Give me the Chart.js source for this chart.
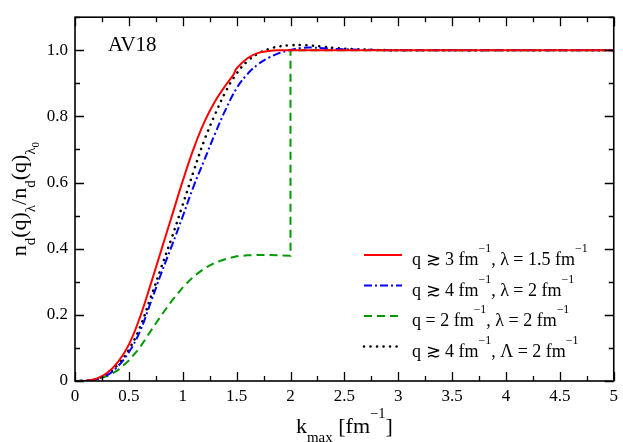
<!DOCTYPE html>
<html>
<head>
<meta charset="utf-8">
<script src="https://cdn.jsdelivr.net/npm/chart.js@4.4.1/dist/chart.umd.min.js"></script>
<style>
html,body{margin:0;padding:0;background:#fff;}
#wrap{width:623px;height:442px;position:relative;}
</style>
</head>
<body>
<div id="wrap"><canvas id="c"></canvas></div>
<script>
// ---- data ----
const redX   = [0, 0.1, 0.2, 0.3, 0.4, 0.5, 0.6, 0.7, 0.8, 0.9, 1.0, 1.1, 1.2, 1.3, 1.4, 1.47, 1.5, 1.6, 1.7, 1.8, 1.9, 2.0, 2.5, 5];
const redY   = [0, 0.001, 0.007, 0.025, 0.058, 0.11, 0.19, 0.29, 0.395, 0.50, 0.605, 0.702, 0.783, 0.846, 0.895, 0.926, 0.945, 0.976, 0.992, 0.998, 1.0, 1.0, 1.0, 1.0];

const blueX  = [0, 0.1, 0.2, 0.3, 0.4, 0.5, 0.6, 0.7, 0.8, 0.9, 1.0, 1.1, 1.2, 1.3, 1.4, 1.5, 1.6, 1.7, 1.8, 1.9, 2.0, 2.1, 2.2, 2.3, 2.5, 2.8, 3.0, 5];
const blueY  = [0, 0.001, 0.005, 0.018, 0.045, 0.087, 0.148, 0.235, 0.325, 0.41, 0.498, 0.588, 0.668, 0.748, 0.822, 0.885, 0.928, 0.958, 0.978, 0.992, 1.001, 1.007, 1.008, 1.006, 1.003, 1.001, 1.0, 1.0];

const greenX = [0, 0.1, 0.2, 0.3, 0.4, 0.5, 0.6, 0.7, 0.8, 0.9, 1.0, 1.1, 1.2, 1.3, 1.4, 1.5, 1.6, 1.7, 1.8, 1.9, 2.0, 2.0, 5];
const greenY = [0, 0.001, 0.005, 0.015, 0.033, 0.062, 0.10, 0.15, 0.198, 0.243, 0.283, 0.316, 0.34, 0.358, 0.369, 0.377, 0.38, 0.381, 0.381, 0.38, 0.379, 1.0, 1.0];

const blackX = [0, 0.1, 0.2, 0.3, 0.4, 0.5, 0.6, 0.7, 0.8, 0.9, 1.0, 1.1, 1.2, 1.3, 1.4, 1.5, 1.6, 1.7, 1.8, 1.9, 2.0, 2.1, 2.2, 2.3, 2.4, 2.6, 2.8, 3.0, 5];
const blackY = [0, 0.001, 0.006, 0.022, 0.05, 0.095, 0.16, 0.25, 0.343, 0.435, 0.533, 0.633, 0.728, 0.806, 0.876, 0.93, 0.967, 0.99, 1.004, 1.012, 1.015, 1.016, 1.014, 1.011, 1.007, 1.003, 1.001, 1.0, 1.0];

// legend labels: [text, kind] kind: '' normal, 'sup' superscript
const legendLabels = [
  [["q \u2273 3 fm",""],["\u22121","sup"],[", \u03bb = 1.5 fm",""],["\u22121","sup"]],
  [["q \u2273 4 fm",""],["\u22121","sup"],[", \u03bb = 2 fm",""],["\u22121","sup"]],
  [["q = 2 fm",""],["\u22121","sup"],[", \u03bb = 2 fm",""],["\u22121","sup"]],
  [["q \u2273 4 fm",""],["\u22121","sup"],[", \u039b = 2 fm",""],["\u22121","sup"]]
];
const xTitle = [["k",""],["max","sub"],[" [fm",""],["\u22121","sup"],["]",""]];
const yTitle = [["n",""],["d","sub"],["(q)",""],["\u03bb","sub"],["/n",""],["d","sub"],["(q)",""],["\u03bb","sub"],["0","subsub"]];
const panelLabel = "AV18";
const xMin = 0, xMax = 5, xStep = 0.5, xMinor = 0.25;
const yMin = 0, yMax = 1.1, yStep = 0.2, yMinor = 0.1;

const SERIF = '"Liberation Serif", "DejaVu Serif", "Times New Roman", serif';

function pts(xs, ys){ return xs.map((x,i)=>({x:x, y:ys[i]})); }

function drawRich(ctx, parts, x, y, size, measureOnly){
  let cx = x;
  for (const [t,k] of parts){
    let fs = size, dy = 0;
    if (k==='sup'){ fs = size*0.66; dy = -size*0.7; }
    else if (k==='sub'){ fs = size*0.68; dy = size*0.4; }
    else if (k==='subsub'){ fs = size*0.5; dy = size*0.6; }
    ctx.font = fs + 'px ' + SERIF;
    const w = ctx.measureText(t).width;
    if (!measureOnly) ctx.fillText(t, cx, y+dy);
    cx += w;
  }
  return cx - x;
}

const decor = {
  id:'decor',
  afterDraw(chart){
    const ctx = chart.ctx, a = chart.chartArea;
    const xs = chart.scales.x, ys = chart.scales.y;
    ctx.save();
    ctx.strokeStyle = '#000'; ctx.fillStyle = '#000';
    // ticks (inward, all four sides)
    ctx.lineWidth = 1.3;
    ctx.beginPath();
    const nx = Math.round((xMax-xMin)/xMinor);
    for (let i=0;i<=nx;i++){
      const v = xMin + i*xMinor;
      const p = Math.round(xs.getPixelForValue(v))+0.5;
      const L = (Math.abs(v/xStep - Math.round(v/xStep))<1e-6) ? 9 : 5;
      ctx.moveTo(p, a.bottom); ctx.lineTo(p, a.bottom-L);
      ctx.moveTo(p, a.top); ctx.lineTo(p, a.top+L);
    }
    const ny = Math.round((yMax-yMin)/yMinor);
    for (let i=0;i<=ny;i++){
      const v = yMin + i*yMinor;
      const p = Math.round(ys.getPixelForValue(v))+0.5;
      const L = (Math.abs(v/yStep - Math.round(v/yStep))<1e-6) ? 9 : 5;
      ctx.moveTo(a.left, p); ctx.lineTo(a.left+L, p);
      ctx.moveTo(a.right, p); ctx.lineTo(a.right-L, p);
    }
    ctx.stroke();
    // frame
    ctx.lineWidth = 1.6;
    ctx.strokeRect(a.left, a.top, a.right-a.left, a.bottom-a.top);
    // panel label
    ctx.font = '21px ' + SERIF;
    ctx.textBaseline = 'alphabetic'; ctx.textAlign = 'left';
    ctx.fillText(panelLabel, 108, 51);
    // legend
    const rowY = [255, 285.5, 316, 346.5];
    chart.data.datasets.forEach((ds, i)=>{
      const ly = rowY[i];
      ctx.save();
      ctx.strokeStyle = ds.borderColor;
      ctx.lineWidth = ds.borderWidth;
      ctx.setLineDash(ds.borderDash || []);
      ctx.lineCap = ds.borderCapStyle || 'butt';
      ctx.beginPath(); ctx.moveTo(364, ly); ctx.lineTo(402, ly); ctx.stroke();
      ctx.restore();
      ctx.fillStyle = '#000';
      drawRich(ctx, legendLabels[i], 412, ly+10, 18);
    });
    // x title
    const wx = drawRich(ctx, xTitle, 0, 0, 22, true);
    drawRich(ctx, xTitle, (a.left+a.right)/2 - wx/2, 433, 22);
    // y title
    ctx.save();
    ctx.translate(26, (a.top+a.bottom)/2);
    ctx.rotate(-Math.PI/2);
    const wy = drawRich(ctx, yTitle, 0, 0, 22, true);
    drawRich(ctx, yTitle, -wy/2, 0, 22);
    ctx.restore();
    ctx.restore();
  }
};

new Chart(document.getElementById('c'), {
  type:'line',
  data:{
    datasets:[
      {label:'red', data:pts(redX, redY), borderColor:'#ff0000', borderWidth:2, pointRadius:0, fill:false, tension:0.4},
      {label:'blue', data:pts(blueX, blueY), borderColor:'#0000ff', borderWidth:2, borderDash:[8,3,2,3], pointRadius:0, fill:false, tension:0.4},
      {label:'green', data:pts(greenX, greenY), borderColor:'#009900', borderWidth:2, borderDash:[8,5], pointRadius:0, fill:false, tension:0},
      {label:'black', data:pts(blackX, blackY), borderColor:'#000000', borderWidth:2.6, borderDash:[0.01,6.5], borderCapStyle:'round', pointRadius:0, fill:false, tension:0.4}
    ]
  },
  options:{
    responsive:true, maintainAspectRatio:false, animation:false,
    layout:{padding:{top:2,right:5,left:0,bottom:0}},
    plugins:{legend:{display:false}, tooltip:{enabled:false}},
    scales:{
      x:{type:'linear', min:xMin, max:xMax,
         grid:{display:false, drawTicks:false}, border:{display:false},
         ticks:{stepSize:xStep, padding:5, color:'#000', font:{family:SERIF, size:17}, maxRotation:0,
                callback:(v)=>String(v)},
         afterFit:(s)=>{s.height = 61;}},
      y:{type:'linear', min:yMin, max:yMax,
         grid:{display:false, drawTicks:false}, border:{display:false},
         ticks:{stepSize:yStep, includeBounds:false, padding:7, color:'#000', font:{family:SERIF, size:17},
                callback:(v)=> (v>1.05 ? '' : (Math.abs(v)<1e-9 ? '0' : v.toFixed(1)))},
         afterFit:(s)=>{s.width = 75;}}
    }
  },
  plugins:[decor]
});
</script>
</body>
</html>
